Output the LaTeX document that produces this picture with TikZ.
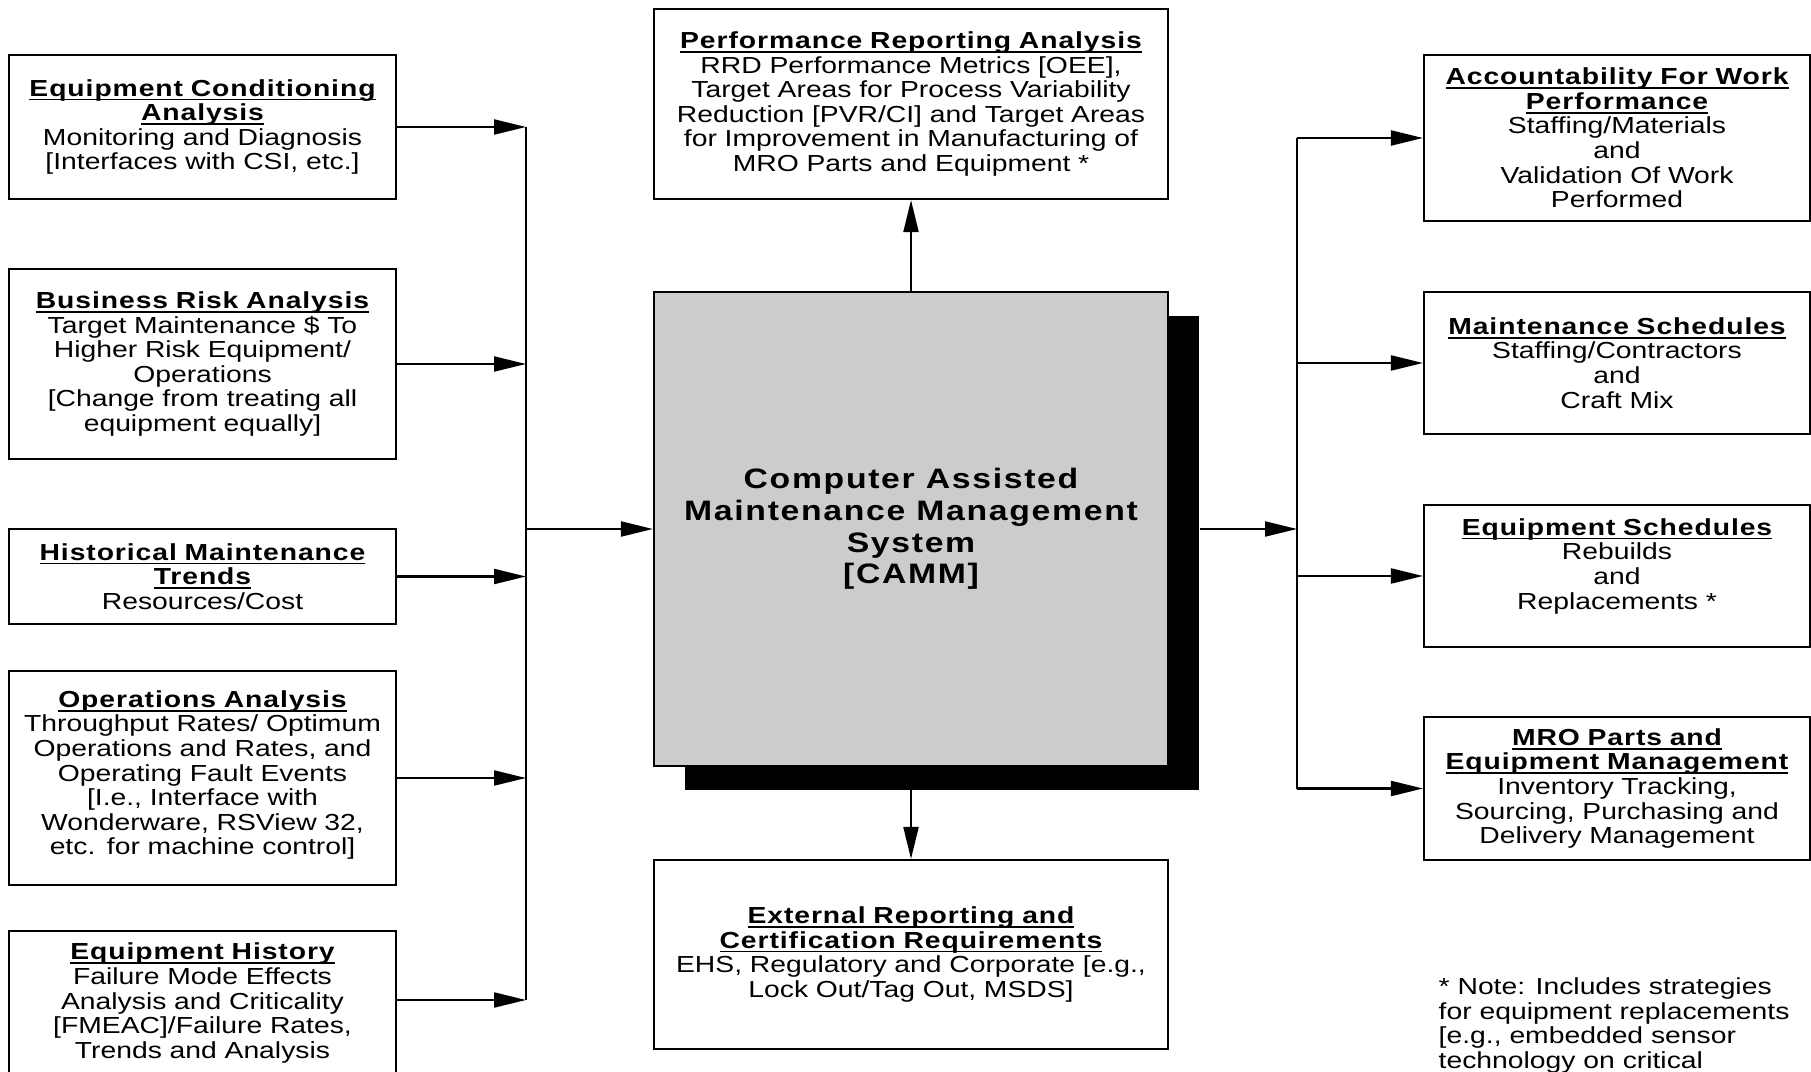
\documentclass[tikz,border=0pt]{standalone}
\usepackage{fontspec}
\setmainfont{Liberation Sans}[FakeStretch=1.22]
\newfontfamily\ttlfont{Liberation Sans}[FakeStretch=1.22, LetterSpace=4]
\newfontfamily\cammfont{Liberation Sans}[FakeStretch=1.2, LetterSpace=6]
\usetikzlibrary{arrows.meta}
\newsavebox{\ttlbox}
\newcommand{\ttl}[1]{\leavevmode\sbox{\ttlbox}{\ttlfont\bfseries #1}\rlap{\rule[-1.2pt]{\wd\ttlbox}{0.5pt}}\usebox{\ttlbox}}
\newcommand{\tightlines}{\lineskiplimit=-10pt\relax}
\tikzset{
  infobox/.style={draw, line width=0.6pt, fill=white, align=center, inner sep=0pt,
    font=\fontsize{6.6}{7}\selectfont\tightlines},
  leftbox/.style={infobox, minimum width=3.87cm, text width=3.8cm},
  rightbox/.style={infobox, minimum width=3.86cm, text width=3.8cm},
  midbox/.style={infobox, minimum width=5.14cm, text width=5cm},
  link/.style={line width=0.6pt, -{Triangle[length=3.2mm,width=1.5mm]}},
  bus/.style={line width=0.6pt}
}

\begin{document}
\begin{tikzpicture}
  \useasboundingbox (0,0) rectangle (18.11,-10.72);

  \node[leftbox, minimum height=1.44cm] (eca) at (2.025,-1.27)
    {\ttl{Equipment Conditioning}\\\ttl{Analysis}\\Monitoring and Diagnosis\\{[}Interfaces with CSI, etc.{]}};
  \node[leftbox, minimum height=1.90cm] (bra) at (2.025,-3.64)
    {\ttl{Business Risk Analysis}\\Target Maintenance \$ To\\Higher Risk Equipment/\\Operations\\{[}Change from treating all\\equipment equally{]}};
  \node[leftbox, minimum height=0.95cm] (hmt) at (2.025,-5.765)
    {\ttl{Historical Maintenance}\\\ttl{Trends}\\Resources/Cost};
  \node[leftbox, minimum height=2.14cm] (oa) at (2.025,-7.78)
    {\ttl{Operations Analysis}\\Throughput Rates/ Optimum\\Operations and Rates, and\\Operating Fault Events\\{[}I.e., Interface with\\Wonderware, RSView 32,\\etc. for machine control{]}\\[-4pt]\mbox{}};
  \node[leftbox, minimum height=1.44cm] (eh) at (2.025,-10.03)
    {\ttl{Equipment History}\\Failure Mode Effects\\Analysis and Criticality\\{[}FMEAC{]}/Failure Rates,\\Trends and Analysis};

  \node[midbox, minimum height=1.90cm] (perf) at (9.11,-1.04)
    {\ttl{Performance Reporting Analysis}\\RRD Performance Metrics [OEE],\\Target Areas for Process Variability\\Reduction [PVR/CI] and Target Areas\\for Improvement in Manufacturing of\\MRO Parts and Equipment *};
  \node[fill=black, minimum width=5.14cm, minimum height=4.74cm, inner sep=0pt] (cammshadow) at (9.42,-5.53) {};
  \node[draw, line width=0.6pt, fill=black!20, minimum width=5.14cm, minimum height=4.74cm,
    inner sep=0pt, align=center, font=\fontsize{8}{9}\selectfont\tightlines\cammfont\bfseries] (camm) at (9.11,-5.29)
    {Computer Assisted\\Maintenance Management\\System\\{[}CAMM{]}};
  \node[midbox, minimum height=1.89cm] (ext) at (9.11,-9.545)
    {\ttl{External Reporting and}\\\ttl{Certification Requirements}\\EHS, Regulatory and Corporate [e.g.,\\Lock Out/Tag Out, MSDS]};

  \node[rightbox, minimum height=1.66cm] (acc) at (16.17,-1.38)
    {\ttl{Accountability For Work}\\\ttl{Performance}\\Staffing/Materials\\and\\Validation Of Work\\Performed};
  \node[rightbox, minimum height=1.42cm] (msch) at (16.17,-3.63)
    {\ttl{Maintenance Schedules}\\Staffing/Contractors\\and\\Craft Mix};
  \node[rightbox, minimum height=1.42cm] (esch) at (16.17,-5.76)
    {\ttl{Equipment Schedules}\\Rebuilds\\and\\Replacements *\\\mbox{}};
  \node[rightbox, minimum height=1.43cm] (mro) at (16.17,-7.885)
    {\ttl{MRO Parts and}\\\ttl{Equipment Management}\\Inventory Tracking,\\Sourcing, Purchasing and\\Delivery Management};

  \node[anchor=north west, align=left, inner sep=0pt, font=\fontsize{6.6}{7}\selectfont\tightlines] (note) at (14.38,-9.77)
    {* Note: Includes strategies\\for equipment replacements\\{[}e.g., embedded sensor\\technology on critical};

  \coordinate (lbus) at (5.26,0);
  \coordinate (rbus) at (12.97,0);

  \draw[link] (eca.east) -- (eca.east -| lbus);
  \draw[link] (bra.east) -- (bra.east -| lbus);
  \draw[link] (hmt.east) -- (hmt.east -| lbus);
  \draw[link] (oa.east) -- (oa.east -| lbus);
  \draw[link] ([yshift=0.3mm]eh.east) -- ([yshift=0.3mm]eh.east -| lbus);
  \draw[bus] (eca.east -| lbus) -- ([yshift=0.3mm]eh.east -| lbus);
  \draw[link] (camm.west -| lbus) -- (camm.west);

  \draw[link] (camm.north) -- (perf.south);
  \draw[link] (camm.south) -- (ext.north);

  \draw[link] (camm.east -| cammshadow.east) -- (camm.east -| rbus);
  \draw[bus] (acc.west -| rbus) -- (mro.west -| rbus);
  \draw[link] (acc.west -| rbus) -- (acc.west);
  \draw[link] (msch.west -| rbus) -- (msch.west);
  \draw[link] (esch.west -| rbus) -- (esch.west);
  \draw[link] (mro.west -| rbus) -- (mro.west);
\end{tikzpicture}
\end{document}
